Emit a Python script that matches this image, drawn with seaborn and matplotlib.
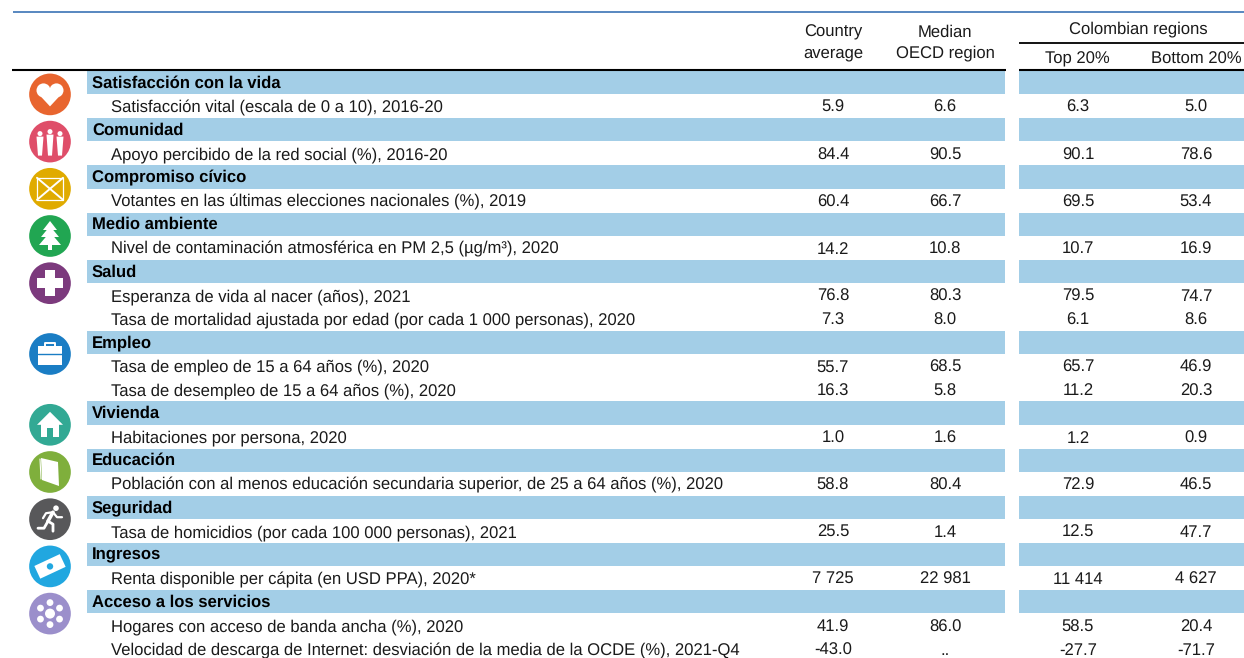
import numpy as np
import pandas as pd
import matplotlib
matplotlib.use("Agg")
import matplotlib.pyplot as plt
import seaborn as sns
from matplotlib.patches import Circle, Polygon, Rectangle

# ---- data ----
labels = [
    "Satisfacción con la vida",
    "Satisfacción vital (escala de 0 a 10), 2016-20",
    "Comunidad",
    "Apoyo percibido de la red social (%), 2016-20",
    "Compromiso cívico",
    "Votantes en las últimas elecciones nacionales (%), 2019",
    "Medio ambiente",
    "Nivel de contaminación atmosférica en PM 2,5 (µg/m³), 2020",
    "Salud",
    "Esperanza de vida al nacer (años), 2021",
    "Tasa de mortalidad ajustada por edad (por cada 1 000 personas), 2020",
    "Empleo",
    "Tasa de empleo de 15 a 64 años (%), 2020",
    "Tasa de desempleo de 15 a 64 años (%), 2020",
    "Vivienda",
    "Habitaciones por persona, 2020",
    "Educación",
    "Población con al menos educación secundaria superior, de 25 a 64 años (%), 2020",
    "Seguridad",
    "Tasa de homicidios (por cada 100 000 personas), 2021",
    "Ingresos",
    "Renta disponible per cápita (en USD PPA), 2020*",
    "Acceso a los servicios",
    "Hogares con acceso de banda ancha (%), 2020",
    "Velocidad de descarga de Internet: desviación de la media de la OCDE (%), 2021-Q4",
]
section_rows = [0, 2, 4, 6, 8, 11, 14, 16, 18, 20, 22]
country_avg = ["", "5.9", "", "84.4", "", "60.4", "", "14.2", "", "76.8", "7.3", "", "55.7", "16.3",
               "", "1.0", "", "58.8", "", "25.5", "", "7 725", "", "41.9", "-43.0"]
median_oecd = ["", "6.6", "", "90.5", "", "66.7", "", "10.8", "", "80.3", "8.0", "", "68.5", "5.8",
               "", "1.6", "", "80.4", "", "1.4", "", "22 981", "", "86.0", ".."]
top_20 = ["", "6.3", "", "90.1", "", "69.5", "", "10.7", "", "79.5", "6.1", "", "65.7", "11.2",
          "", "1.2", "", "72.9", "", "12.5", "", "11 414", "", "58.5", "-27.7"]
bottom_20 = ["", "5.0", "", "78.6", "", "53.4", "", "16.9", "", "74.7", "8.6", "", "46.9", "20.3",
             "", "0.9", "", "46.5", "", "47.7", "", "4 627", "", "20.4", "-71.7"]
icon_colors = ["#E8652F", "#DF4E69", "#E0AB00", "#21A652", "#7C3A7D", "#1A7DC4",
               "#32A994", "#7FAF3C", "#58585A", "#21A7E0", "#9B8FCB"]

# ---- layout (pixels) ----
W, H = 1244, 658
ROW_TOP = 70.8
ROW_H = 23.6
FS = 12  # Liberation Sans snaps to whole pixel sizes, 12pt is the closest one
BAND = "#A3CEE7"
TXT = "#1a1a1a"
col_x = [833, 945, 1078, 1196]

sns.set_theme(style="white")
plt.rcParams["font.family"] = ["Liberation Sans", "DejaVu Sans"]
plt.rcParams["text.hinting"] = "none"
plt.rcParams["text.hinting_factor"] = 8

fig = plt.figure(figsize=(W / 100, H / 100), dpi=100)
ax = fig.add_axes([0, 0, 1, 1])

row_y = ROW_TOP + ROW_H * (np.arange(len(labels)) + 0.5)
is_section = np.isin(np.arange(len(labels)), section_rows)
df = pd.DataFrame({"y": row_y, "left_band": np.where(is_section, 1005 - 87, 0),
                   "right_band": np.where(is_section, W - 1019, 0)})

# section bands, left block and Colombian regions block
sns.barplot(data=df, x="left_band", y="y", orient="h", native_scale=True, color=BAND, saturation=1,
            width=0.98, left=87, errorbar=None, linewidth=0, ax=ax)
sns.barplot(data=df, x="right_band", y="y", orient="h", native_scale=True, color=BAND, saturation=1,
            width=0.98, left=1019, errorbar=None, linewidth=0, ax=ax)

# icon discs
icon_y = row_y[section_rows] + ROW_H / 2
sns.scatterplot(x=np.full(len(icon_y), 50.0), y=icon_y, hue=[labels[i] for i in section_rows],
                palette=icon_colors, s=900, linewidth=0, legend=False, zorder=3, ax=ax)


def white(patch):
    patch.set_facecolor("white")
    patch.set_edgecolor("none")
    patch.set_zorder(4)
    ax.add_patch(patch)


def stroke(xs, ys, lw=1.4, color="white"):
    ax.plot(xs, ys, color=color, lw=lw, zorder=5, solid_capstyle="round")


def heart(cx, cy):
    white(Circle((cx - 6.5, cy - 4), 7))
    white(Circle((cx + 6.5, cy - 4), 7))
    white(Polygon([(cx - 13, cy - 2), (cx + 13, cy - 2), (cx, cy + 12)]))


def people(cx, cy):
    for dx, top in [(-10, -6), (0, -8), (10, -6)]:
        white(Circle((cx + dx, cy + top - 2), 2.5))
        white(Polygon([(cx + dx - 3.5, cy + top + 1), (cx + dx + 3.5, cy + top + 1),
                       (cx + dx + 2, cy + 14), (cx + dx - 2, cy + 14)]))


def ballot(cx, cy):
    stroke([cx - 13, cx + 13, cx + 13, cx - 13, cx - 13], [cy - 11, cy - 11, cy + 11, cy + 11, cy - 11], 0.9)
    stroke([cx - 13, cx + 13], [cy - 11, cy + 11], 1.4)
    stroke([cx + 13, cx - 13], [cy - 11, cy + 11], 1.4)


def tree(cx, cy):
    white(Polygon([(cx, cy - 15), (cx + 7, cy - 6), (cx - 7, cy - 6)]))
    white(Polygon([(cx, cy - 10), (cx + 9, cy + 1), (cx - 9, cy + 1)]))
    white(Polygon([(cx, cy - 4), (cx + 11, cy + 9), (cx - 11, cy + 9)]))
    white(Rectangle((cx - 2, cy + 8), 4, 6))


def cross(cx, cy):
    white(Rectangle((cx - 13, cy - 5), 26, 10))
    white(Rectangle((cx - 5, cy - 13), 10, 26))


def briefcase(cx, cy):
    white(Rectangle((cx - 12, cy - 8), 24, 19))
    stroke([cx - 5, cx - 5, cx + 5, cx + 5], [cy - 8, cy - 11, cy - 11, cy - 8], 1.4)
    stroke([cx - 12, cx + 12], [cy, cy], 1.0, icon_colors[5])


def house(cx, cy):
    white(Polygon([(cx, cy - 13), (cx + 13, cy), (cx - 13, cy)]))
    white(Rectangle((cx - 9, cy - 1), 18, 13))
    ax.add_patch(Rectangle((cx - 3, cy + 3), 6, 9, facecolor=icon_colors[6], edgecolor="none", zorder=5))


def book(cx, cy):
    white(Polygon([(cx - 9, cy - 14), (cx + 8, cy - 10), (cx + 9, cy + 14), (cx - 8, cy + 8)]))
    stroke([cx - 10, cx - 9], [cy - 13, cy + 7], 0.8)


def runner(cx, cy):
    white(Circle((cx + 6, cy - 11), 2.8))
    stroke([cx + 3, cx - 2], [cy - 7, cy + 2], 2.6)
    stroke([cx - 2, cx + 3, cx + 3], [cy + 2, cy + 5, cy + 12], 2.0)
    stroke([cx - 2, cx - 6, cx - 12], [cy + 2, cy + 9, cy + 9], 2.0)
    stroke([cx + 3, cx + 7, cx + 12], [cy - 7, cy - 2, cy - 2], 1.6)
    stroke([cx + 3, cx - 4, cx - 7], [cy - 7, cy - 6, cy - 1], 1.6)


def banknote(cx, cy):
    t = np.radians(-25)
    pts = [(-14, -7), (14, -7), (14, 7), (-14, 7)]
    white(Polygon([(cx + a * np.cos(t) - b * np.sin(t), cy + a * np.sin(t) + b * np.cos(t)) for a, b in pts]))
    ax.add_patch(Circle((cx, cy), 3.2, facecolor=icon_colors[9], edgecolor="none", zorder=5))


def network(cx, cy):
    white(Circle((cx, cy), 5))
    for a in np.radians(np.arange(30, 390, 60) + 60):
        white(Circle((cx + 11 * np.cos(a), cy + 11 * np.sin(a)), 3.4))


for draw, cy in zip([heart, people, ballot, tree, cross, briefcase, house, book, runner, banknote, network], icon_y):
    draw(50, cy)

# row labels and values
for i, lab in enumerate(labels):
    if is_section[i]:
        ax.text(92, row_y[i] + 5, lab, ha="left", va="baseline", fontsize=FS, fontweight="bold", color="black")
    else:
        y = row_y[i] + 6
        ax.text(111, y, lab, ha="left", va="baseline", fontsize=FS, color=TXT)
        for x, col in zip(col_x, [country_avg, median_oecd, top_20, bottom_20]):
            ax.text(x, y, col[i], ha="center", va="baseline", fontsize=FS, color=TXT)

# column headers
ax.text(833, 36.5, "Country", ha="center", va="baseline", fontsize=FS, color=TXT)
ax.text(833, 57.5, "average", ha="center", va="baseline", fontsize=FS, color=TXT)
ax.text(945, 36.5, "Median", ha="center", va="baseline", fontsize=FS, color=TXT)
ax.text(945, 57.5, "OECD region", ha="center", va="baseline", fontsize=FS, color=TXT)
ax.text(1138, 33.5, "Colombian regions", ha="center", va="baseline", fontsize=FS, color=TXT)
ax.text(1077, 63.5, "Top 20%", ha="center", va="baseline", fontsize=FS, color=TXT)
ax.text(1196, 63.5, "Bottom 20%", ha="center", va="baseline", fontsize=FS, color=TXT)

# rules
ax.plot([13, W], [12, 12], color="#4A7EBB", lw=1.3, solid_capstyle="butt")
ax.plot([12, 1006], [70, 70], color="black", lw=1.5, solid_capstyle="butt")
ax.plot([1019, W], [70, 70], color="black", lw=1.5, solid_capstyle="butt")
ax.plot([1019, W], [43, 43], color="black", lw=1.3, solid_capstyle="butt")

ax.set_xlim(0, W)
ax.set_ylim(H, 0)
ax.set_xlabel("")
ax.set_ylabel("")
ax.axis("off")

fig.savefig("out.png", dpi=100)
